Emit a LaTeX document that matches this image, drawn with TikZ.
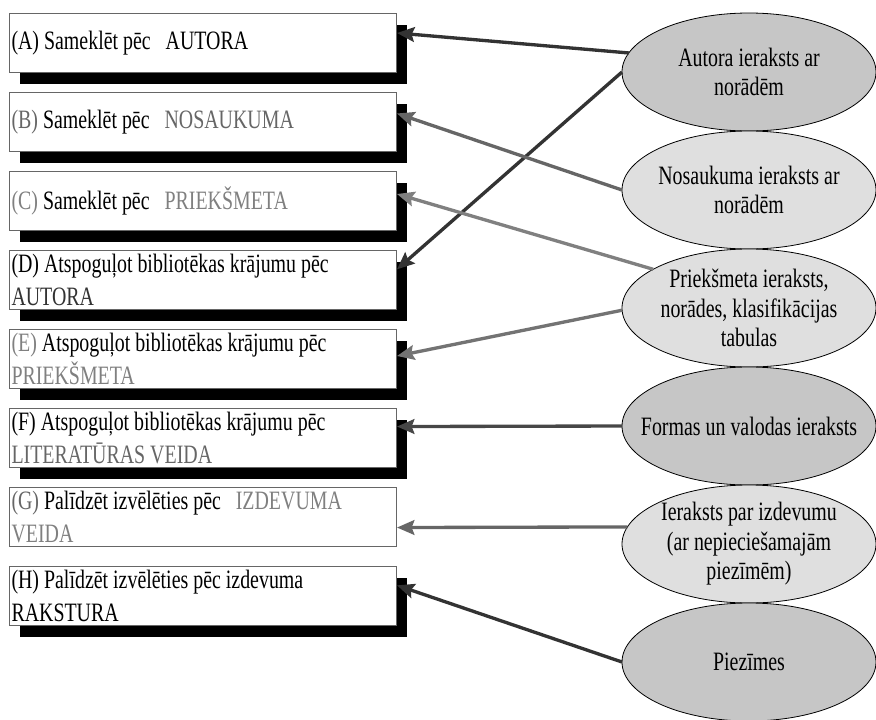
\documentclass[tikz,border=0pt]{standalone}
\usepackage{fontspec}
\setmainfont{Liberation Serif}
\usepackage{graphicx}
\usepackage{tikz}
\usetikzlibrary{arrows.meta, positioning, shapes.geometric, shadows}
\definecolor{ink}{HTML}{333333}
\definecolor{mid}{HTML}{666666}
\definecolor{pale}{HTML}{808080}
\definecolor{darkfill}{HTML}{C6C6C6}
\definecolor{lightfill}{HTML}{DFDFDF}
\newcommand{\Dim}[1]{\textcolor{mid}{#1}}
\newcommand{\Pale}[1]{\textcolor{pale}{#1}}
% narrow set text, as in the scanned figure
\newcommand{\Left}[1]{\scalebox{0.75}[1]{\parbox{383pt}{\raggedright #1}}}
\newcommand{\Mid}[1]{\scalebox{0.75}[1]{\parbox{230pt}{\centering #1}}}
\tikzset{
    entry/.style={rectangle, draw=mid, line width=0.75pt, fill=white, minimum width=290.25pt,
      minimum height=44.25pt, inner xsep=1.5pt, inner ysep=0pt,
      font=\fontsize{19.9pt}{24.75pt}\selectfont},
    shade/.style={general shadow={fill=black, shadow xshift=7.5pt, shadow yshift=-8.25pt}},
    ellip/.style={ellipse, draw, line width=0.6pt, minimum width=190.5pt, minimum height=88.5pt,
      inner xsep=-20pt, inner ysep=-4pt, outer sep=0pt,
      font=\fontsize{19.9pt}{22.2pt}\selectfont},
    link/.style={->, line width=2.5pt},
}

\begin{document}
\begin{tikzpicture}
    \tikzset{
      node distance=14.25pt,
      >={Stealth[length=13pt, width=11pt, inset=2pt]}
    }
    \useasboundingbox (0,0) rectangle (657pt,-539.25pt);

    \node[entry, shade, anchor=north west] at (6.75pt,-9.75pt) (s0) {\Left{(A) Sameklēt pēc~~ AUTORA}};
    \node[entry, shade, below=of s0] (s1) {\Left{\Dim{(B)} Sameklēt pēc~~ \Dim{NOSAUKUMA}}};
    \node[entry, shade, below=of s1] (s2) {\Left{\Pale{(C)} Sameklēt pēc~~ \Pale{PRIEKŠMETA}}};
    \node[entry, shade, below=of s2] (s3) {\Left{(D) Atspoguļot bibliotēkas krājumu pēc\\\textcolor{ink}{AUTORA}}};
    \node[entry, shade, below=of s3] (s4) {\Left{\Pale{(E)} Atspoguļot bibliotēkas krājumu pēc\\\Pale{PRIEKŠMETA}}};
    \node[entry, shade, below=of s4] (s5) {\Left{(F) Atspoguļot bibliotēkas krājumu pēc\\\Dim{LITERATŪRAS VEIDA}}};
    \node[entry, below=of s5] (s6) {\Left{\Dim{(G)} Palīdzēt izvēlēties pēc~~ \Pale{IZDEVUMA}\\\Pale{VEIDA}}};
    \node[entry, shade, below=of s6] (s7) {\Left{(H) Palīdzēt izvēlēties pēc izdevuma\\RAKSTURA}};

    \node[ellip, fill=darkfill] at (561.75pt,-54pt) (r0) {\Mid{Autora ieraksts ar\\norādēm}};
    \node[ellip, fill=lightfill, below=0pt of r0] (r1) {\Mid{Nosaukuma ieraksts ar\\norādēm}};
    \node[ellip, fill=lightfill, below=0pt of r1] (r2) {\Mid{Priekšmeta ieraksts,\\norādes, klasifikācijas\\tabulas}};
    \node[ellip, fill=darkfill, below=0pt of r2] (r3) {\Mid{Formas un valodas ieraksts}};
    \node[ellip, fill=lightfill, below=0pt of r3] (r4) {\Mid{Ieraksts par izdevumu\\(ar nepieciešamajām\\piezīmēm)}};
    \node[ellip, fill=darkfill, below=0pt of r4] (r5) {\Mid{Piezīmes}};

    \draw (r0.171) edge[link, ink] ([yshift=7.5pt]s0.east);
    \draw (r0.180) edge[link, ink] ([yshift=8pt]s3.east);
    \draw (r1.west) edge[link, mid] ([yshift=6.4pt]s1.east);
    \draw (r2.158) edge[link, pale] ([yshift=5.25pt]s2.east);
    \draw (r2.181) edge[link, pale!90!black] ([yshift=2.25pt]s4.east);
    \draw (r3.west) edge[link, ink!90!white] ([yshift=8.6pt]s5.east);
    \draw (r4.172) edge[link, mid] ([yshift=-7.9pt]s6.east);
    \draw (r5.west) edge[link, ink] ([yshift=8pt]s7.east);
\end{tikzpicture}
\end{document}
